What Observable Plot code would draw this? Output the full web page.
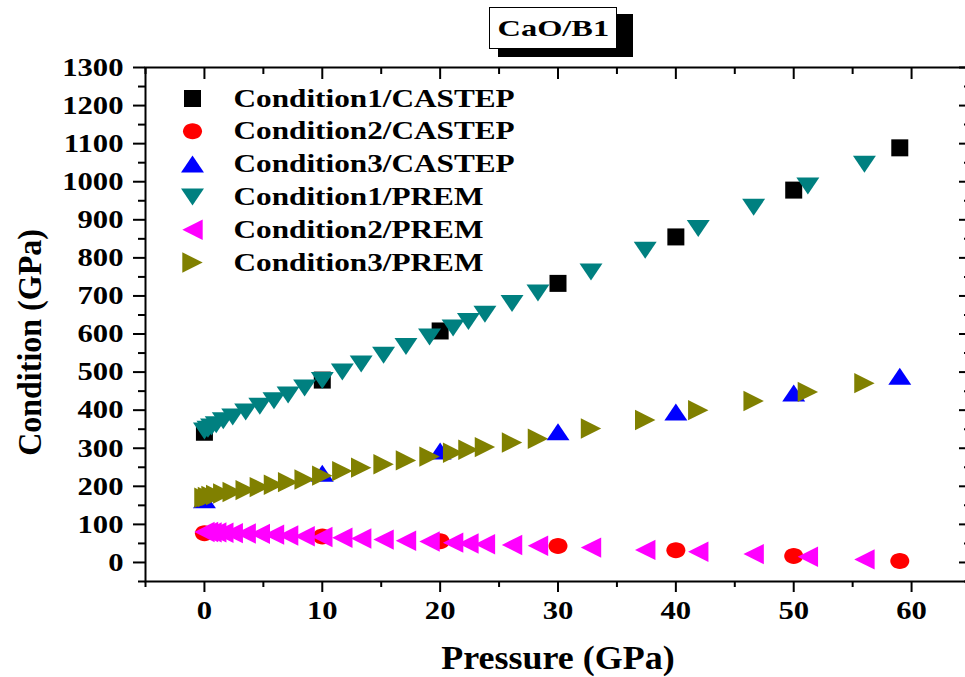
<!DOCTYPE html>
<html>
<head>
<meta charset="utf-8">
<script src="https://cdn.jsdelivr.net/npm/d3@7"></script>
<script src="https://cdn.jsdelivr.net/npm/@observablehq/plot@0.6"></script>
<style>
html, body { margin: 0; padding: 0; background: #fff; overflow: hidden; }
#wrap { position: relative; width: 965px; height: 677px; overflow: hidden; }
#wrap svg { max-width: none !important; display: block; }
#tshadow { position: absolute; left: 498px; top: 14px; width: 135px; height: 43px; background: #000; }
#title { position: absolute; left: 489px; top: 7px; width: 128px; height: 42px; border: 1px solid #000; background: #fff; box-sizing: border-box;
  display: flex; align-items: center; justify-content: center; }
#title span { display: inline-block; font: bold 24px "Liberation Serif", serif; transform: scaleX(1.35); }
</style>
</head>
<body>
<div id="wrap">
  <div id="tshadow"></div>
  <div id="title"><span>CaO/B1</span></div>
</div>
<script>
// ---- data ----
const xCastep = [0, 10, 20, 30, 40, 50, 59];
const cond1Castep = [342, 479, 608, 733, 855, 978, 1089];
const cond2Castep = [77, 68, 56, 43, 32, 17, 4];
const cond3Castep = [165, 234, 293, 343, 395, 445, 489];

const xPrem = [0, 0.3, 0.6, 1.0, 1.6, 2.4, 3.5, 4.7, 5.9, 7.1, 8.5, 10.0, 11.7, 13.3, 15.2, 17.1, 19.1, 21.1, 22.4, 23.8, 26.1, 28.3, 32.8, 37.4, 41.9, 46.6, 51.2, 56.0];
const cond1Prem = [345, 350, 356, 362, 372, 382, 395, 410, 425, 440, 458, 478, 500, 521, 544, 567, 592, 616, 633, 652, 680, 708, 763, 820, 877, 933, 989, 1046];
const cond2Prem = [80, 80, 79, 79, 78, 77, 76, 75, 73, 71, 69, 67, 65, 63, 60, 57, 55, 52, 50, 48, 46, 44, 39, 33, 28, 22, 15, 8];
const cond3Prem = [170, 172, 175, 177, 181, 185, 190, 198, 204, 211, 218, 228, 240, 249, 258, 268, 278, 288, 296, 303, 315, 325, 352, 374, 400, 424, 448, 471];

const seriesNames = ["Condition1/CASTEP", "Condition2/CASTEP", "Condition3/CASTEP", "Condition1/PREM", "Condition2/PREM", "Condition3/PREM"];
const seriesColors = ["#000000", "#ff0000", "#0000ff", "#008080", "#ff00ff", "#808000"];

const xTickLabels = [0, 10, 20, 30, 40, 50, 60];
const xMinorTicks = [-5, 5, 15, 25, 35, 45, 55, 65];
const yTickLabels = [0, 100, 200, 300, 400, 500, 600, 700, 800, 900, 1000, 1100, 1200, 1300];
const yMinorTicks = [-50, 50, 150, 250, 350, 450, 550, 650, 750, 850, 950, 1050, 1150, 1250];

// ---- custom marker shapes ----
function polySymbol(pts) {
  return {draw(ctx, size) {
    const r = Math.sqrt(size / Math.PI);
    ctx.moveTo(pts[0][0] * r, pts[0][1] * r);
    for (let i = 1; i < pts.length; i++) ctx.lineTo(pts[i][0] * r, pts[i][1] * r);
    ctx.closePath();
  }};
}
const ellipseSymbol = {draw(ctx, size) {
  const r = Math.sqrt(size / Math.PI), rx = 1.12 * r, ry = 0.94 * r, k = 0.5523;
  ctx.moveTo(rx, 0);
  ctx.bezierCurveTo(rx, k * ry, k * rx, ry, 0, ry);
  ctx.bezierCurveTo(-k * rx, ry, -rx, k * ry, -rx, 0);
  ctx.bezierCurveTo(-rx, -k * ry, -k * rx, -ry, 0, -ry);
  ctx.bezierCurveTo(k * rx, -ry, rx, -k * ry, rx, 0);
  ctx.closePath();
}};
const symbols = [
  polySymbol([[-1, -1], [1, -1], [1, 1], [-1, 1]]),
  ellipseSymbol,
  polySymbol([[0, -1], [1.35, 1], [-1.35, 1]]),
  polySymbol([[0, 1], [1.35, -1], [-1.35, -1]]),
  polySymbol([[-1.2, 0], [1.2, -1.2], [1.2, 1.2]]),
  polySymbol([[1.2, 0], [-1.2, -1.2], [-1.2, 1.2]])
];

const seriesData = [
  [xCastep, cond1Castep], [xCastep, cond2Castep], [xCastep, cond3Castep],
  [xPrem, cond1Prem], [xPrem, cond2Prem], [xPrem, cond3Prem]
].map(([xs, ys]) => xs.map((x, i) => ({x, y: ys[i]})));

const font = "Liberation Serif";
const R = 8.5;
const textStyle = {fontWeight: "bold", fontFamily: font, fill: "#000"};

const legendMarks = [];
seriesNames.forEach((name, i) => {
  legendMarks.push(Plot.dot([name], {frameAnchor: "top-left", dx: 47, dy: 31 + i * 32.8, r: R, symbol: symbols[i], fill: seriesColors[i]}));
  legendMarks.push(Plot.text([name], {text: d => d, frameAnchor: "top-left", dx: 88, dy: 31 + i * 32.8, textAnchor: "start", lineAnchor: "middle",
    fontSize: 25, ...textStyle}));
});

const tickOnly = {fill: "none", label: null, strokeWidth: 2, stroke: "#000"};
const fmt = d => String(d);

const chart = Plot.plot({
  width: 970,
  height: 677,
  marginLeft: 145,
  marginRight: 0,
  marginTop: 67,
  marginBottom: 96,
  style: {background: "#fff", maxWidth: "none", color: "#000"},
  x: {domain: [-5, 65], axis: null},
  y: {domain: [-50, 1300], axis: null},
  marks: [
    ...seriesData.map((data, i) => Plot.dot(data, {x: "x", y: "y", r: R, symbol: symbols[i], fill: seriesColors[i]})),
    Plot.frame({stroke: "#000", strokeWidth: 2}),
    // left axis
    Plot.axisY(yTickLabels, {anchor: "left", tickSize: 12, tickPadding: 10, tickFormat: fmt, label: null, strokeWidth: 2, stroke: "#000", fontSize: 26, ...textStyle}),
    Plot.axisY(yMinorTicks, {anchor: "left", tickSize: 7, ...tickOnly}),
    // right axis (inward ticks)
    Plot.axisY(yTickLabels, {anchor: "right", tickSize: 12, dx: -12, ...tickOnly}),
    Plot.axisY(yMinorTicks, {anchor: "right", tickSize: 7, dx: -7, ...tickOnly}),
    // bottom axis
    Plot.axisX(xTickLabels, {anchor: "bottom", tickSize: 11, tickPadding: 8, tickFormat: fmt, label: null, strokeWidth: 2, stroke: "#000", fontSize: 26, ...textStyle}),
    Plot.axisX(xMinorTicks, {anchor: "bottom", tickSize: 6, ...tickOnly}),
    // top axis (inward ticks)
    Plot.axisX(xTickLabels, {anchor: "top", tickSize: 11, dy: 11, ...tickOnly}),
    Plot.axisX(xMinorTicks, {anchor: "top", tickSize: 6, dy: 6, ...tickOnly}),
    // axis titles
    Plot.text(["Pressure (GPa)"], {text: d => d, frameAnchor: "bottom", dy: 77, textAnchor: "middle", lineAnchor: "middle", fontSize: 33, ...textStyle}),
    Plot.text(["Condition (GPa)"], {text: d => d, frameAnchor: "left", dx: -115, dy: 18, rotate: -90, textAnchor: "middle", lineAnchor: "middle", fontSize: 33, ...textStyle}),
    ...legendMarks
  ]
});

const wrap = document.getElementById("wrap");
wrap.insertBefore(chart, wrap.firstChild);

// horizontal stretch of the bold serif lettering, as in the reference
function stretch(el, sx) {
  const t = el.getAttribute("transform") || "";
  el.setAttribute("transform", t + ` scale(${sx},1)`);
}
const sel = d3.select(chart);
sel.selectAll('g[aria-label="y-axis tick label"] text, g[aria-label="x-axis tick label"] text').each(function () { stretch(this, 1.18); });
sel.selectAll("text").each(function () {
  const t = this.textContent;
  if (seriesNames.includes(t)) stretch(this, 1.25);
  else if (t === "Pressure (GPa)") stretch(this, 1.09);
  else if (t === "Condition (GPa)") stretch(this, 0.97);
});
</script>
</body>
</html>
